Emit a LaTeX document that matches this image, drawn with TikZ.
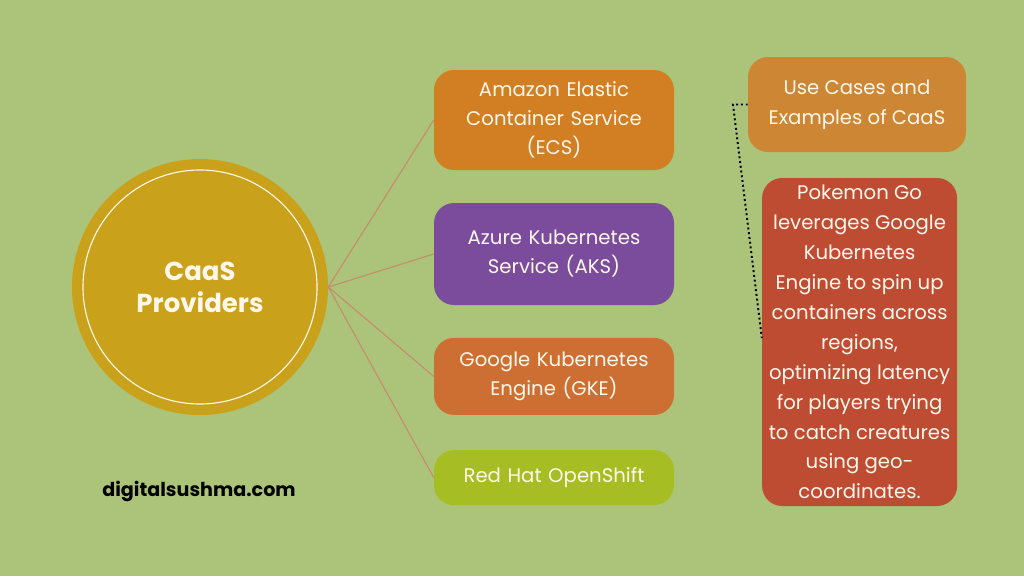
\documentclass[tikz,border=0pt]{standalone}
\usepackage{fontspec}
\setmainfont{Poppins}
\usetikzlibrary{shapes,positioning,calc}

\definecolor{bggreen}{RGB}{172,196,122}
\definecolor{hubgold}{RGB}{201,161,26}
\definecolor{ecsorange}{RGB}{209,127,34}
\definecolor{akspurple}{RGB}{122,76,155}
\definecolor{gkeorange}{RGB}{205,111,51}
\definecolor{osgreen}{RGB}{166,190,36}
\definecolor{caseorange}{RGB}{205,134,52}
\definecolor{casered}{RGB}{190,76,51}
\definecolor{spoke}{RGB}{196,140,112}
\definecolor{cream}{RGB}{255,247,235}

\begin{document}
\begin{tikzpicture}[
  provider/.style={
    rectangle, rounded corners=0.5cm,
    minimum width=6.0cm, text width=5.6cm,
    text centered, align=center, inner sep=4pt,
    text=cream, font=\fontsize{14}{20.6}\selectfont
  },
  casebox/.style={
    rectangle, rounded corners=0.5cm,
    text centered, align=center, inner sep=4pt,
    text=cream, font=\fontsize{14}{21.3}\selectfont
  },
  spokeline/.style={
    draw=spoke, line width=0.8pt
  }
]

% ==================== CANVAS ====================
\fill[bggreen] (0,0) rectangle (25.6,-14.4);
\useasboundingbox (0,0) rectangle (25.6,-14.4);

% ==================== HUB ====================

% Central circle
\node (hub) [circle, fill=hubgold, minimum size=6.4cm, inner sep=0pt,
  text=cream, font=\fontsize{18.5}{22.8}\selectfont\bfseries, align=center]
  at (5.0, -7.175) {CaaS\\Providers};
\draw[cream, line width=0.8pt] (hub.center) circle (2.925cm);

% ==================== PROVIDERS ====================

\node (ecs) [provider, fill=ecsorange, minimum height=2.5cm] at (13.85, -3.0)
  {Amazon Elastic\\Container Service\\(ECS)};

\node (aks) [provider, fill=akspurple, minimum height=2.55cm] at (13.85, -6.35)
  {Azure Kubernetes\\Service (AKS)};

\node (gke) [provider, fill=gkeorange, minimum height=1.925cm] at (13.85, -9.41)
  {Google Kubernetes\\Engine (GKE)};

\node (ocp) [provider, fill=osgreen, minimum height=1.375cm] at (13.85, -11.94)
  {Red Hat OpenShift};

% ==================== USE CASES ====================

\node (uc) [casebox, fill=caseorange, minimum width=5.45cm,
  minimum height=2.375cm] at (21.425, -2.6125)
  {Use Cases and\\Examples of CaaS};

\node (pogo) [casebox, fill=casered, minimum width=4.875cm,
  minimum height=8.2cm] at (21.49, -8.55)
  {Pokemon Go\\leverages Google\\Kubernetes\\Engine to spin up\\containers across\\regions,\\optimizing latency\\for players trying\\to catch creatures\\using geo-\\coordinates.};

% ==================== CONNECTORS ====================

\foreach \target in {ecs, aks, gke, ocp} {
  \draw [spokeline] (hub.east) -- (\target.west);
}

% Elbow from use cases to example
\coordinate (ucbend) at (18.325, -2.6125);
\draw [dotted, line width=1.4pt, black] (uc.west) -- (ucbend) -- ([yshift=0.1cm]pogo.west);

% ==================== FOOTER ====================

\node (site) [font=\fontsize{13.6}{16}\selectfont\bfseries, text=black]
  at (4.975, -12.275) {digitalsushma.com};

\end{tikzpicture}
\end{document}
